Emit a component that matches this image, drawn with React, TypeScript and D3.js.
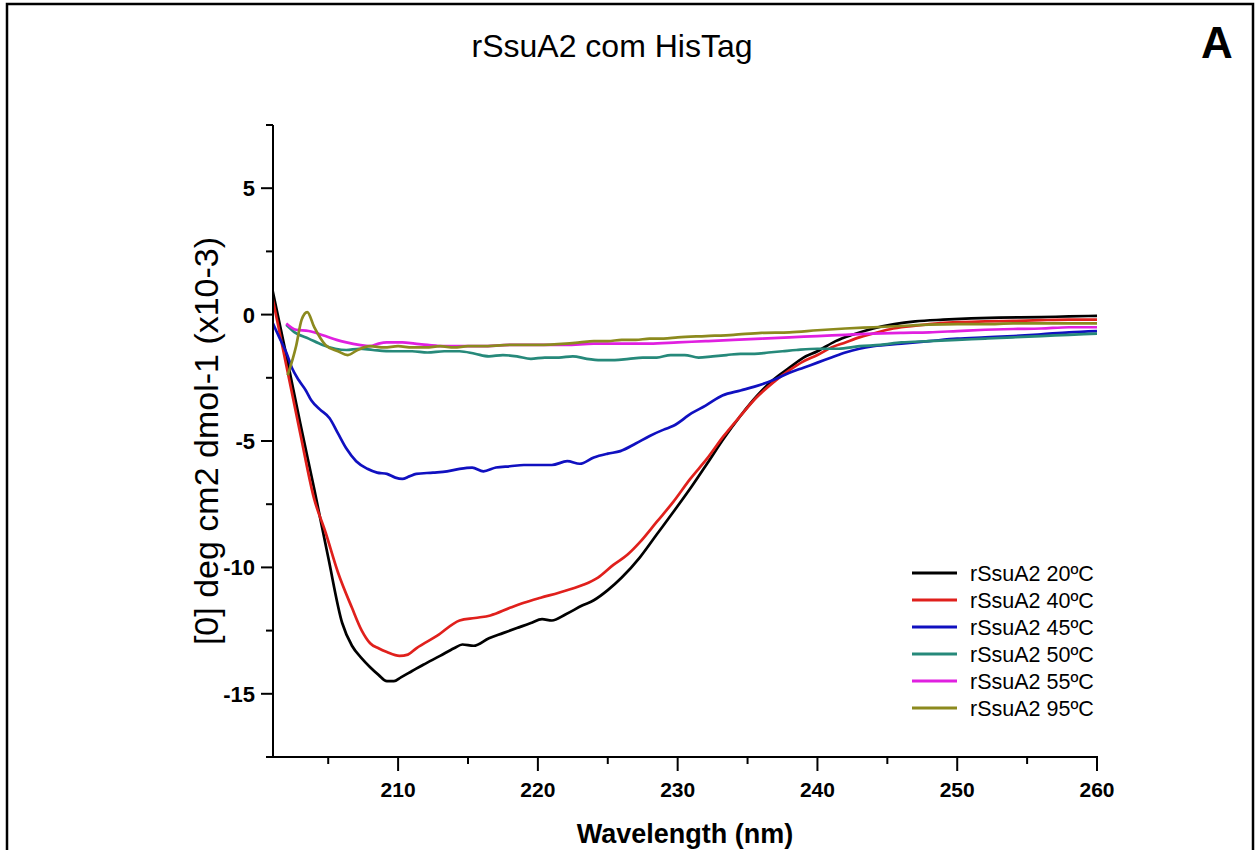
import React from "react";
import * as d3 from "d3";

// ---------- data ----------
const xTicksMajor = [210, 220, 230, 240, 250, 260];
const xTicksMinor = [205, 215, 225, 235, 245, 255];
const yTicksMajor = [5, 0, -5, -10, -15];
const yTicksMinor = [2.5, -2.5, -7.5, -12.5, -17.5, 7.5];

const seriesNames = ["rSsuA2 20ºC", "rSsuA2 40ºC", "rSsuA2 45ºC", "rSsuA2 50ºC", "rSsuA2 55ºC", "rSsuA2 95ºC"];
const seriesColors = ["#000000", "#e0201c", "#1010c0", "#26897a", "#e020e0", "#8c8a1e"];

const nm20 = [201, 202, 203, 204, 205, 206, 206.7, 207.4, 208, 208.6, 209.2, 209.7, 210.2, 211, 211.8, 213, 214, 214.6, 215.4, 216.5, 217.5, 218.5, 219.5, 220.3, 221, 222, 223.2, 224, 225, 226, 227.3, 228.5, 229.7, 231, 232.1, 233.3, 234.5, 235.7, 236.8, 238, 239, 240, 241.3, 242.5, 244, 245.5, 247, 249, 251, 253, 256, 258, 260];
const val20 = [1.0, -1.6, -4.3, -6.9, -9.6, -12.2, -13.1, -13.6, -13.95, -14.25, -14.5, -14.5, -14.35, -14.1, -13.85, -13.5, -13.2, -13.05, -13.1, -12.8, -12.6, -12.4, -12.2, -12.05, -12.1, -11.85, -11.5, -11.3, -10.9, -10.4, -9.6, -8.7, -7.8, -6.8, -5.9, -4.9, -4.0, -3.2, -2.6, -2.1, -1.7, -1.45, -1.05, -0.8, -0.55, -0.38, -0.27, -0.2, -0.15, -0.12, -0.1, -0.07, -0.05];

const nm40 = [201, 202, 203, 204, 204.8, 205.7, 206.7, 207.4, 208, 208.6, 209.2, 210.1, 210.7, 211.3, 212.8, 214.4, 215.5, 216.6, 218, 219, 220.2, 221.5, 223.2, 224.3, 225.4, 226.4, 227.3, 228.5, 229.7, 230.9, 232.1, 233.3, 234.5, 235.6, 236.8, 238, 239, 240, 241, 242, 243, 244, 245, 246, 248, 250, 252, 254, 256, 258, 260];
const val40 = [0.7, -2.0, -4.7, -7.3, -8.6, -10.2, -11.6, -12.5, -13.0, -13.2, -13.35, -13.5, -13.45, -13.2, -12.7, -12.1, -12.0, -11.9, -11.6, -11.4, -11.2, -11.0, -10.7, -10.4, -9.9, -9.5, -9.0, -8.2, -7.4, -6.5, -5.7, -4.8, -4.0, -3.3, -2.7, -2.2, -1.85, -1.6, -1.3, -1.1, -0.9, -0.75, -0.6, -0.5, -0.38, -0.3, -0.27, -0.25, -0.22, -0.2, -0.2];

const nm45 = [201, 201.5, 202, 202.4, 202.9, 203.4, 203.8, 204.4, 205.1, 205.7, 206.3, 207, 207.8, 208.5, 209.2, 209.8, 210.3, 210.8, 211.3, 212.5, 213.5, 214.4, 215.3, 216.1, 217, 218, 219, 220, 221, 222.1, 223, 224, 225, 225.9, 227, 228, 229, 229.7, 231, 232, 233.2, 234.5, 235.5, 236.8, 238, 239, 240, 241, 242, 243, 244, 246, 248, 250, 252, 254, 256, 258, 260];
const val45 = [-0.3, -0.9, -1.5, -2.1, -2.6, -3.0, -3.4, -3.75, -4.1, -4.7, -5.3, -5.8, -6.1, -6.25, -6.3, -6.45, -6.5, -6.4, -6.3, -6.25, -6.2, -6.1, -6.05, -6.2, -6.05, -6.0, -5.95, -5.95, -5.95, -5.8, -5.9, -5.65, -5.5, -5.4, -5.1, -4.8, -4.55, -4.4, -3.9, -3.6, -3.2, -3.0, -2.85, -2.6, -2.3, -2.1, -1.9, -1.7, -1.5, -1.35, -1.25, -1.15, -1.05, -0.95, -0.9, -0.85, -0.78, -0.7, -0.65];

const nm50 = [202, 202.6, 203.6, 204.6, 205.5, 206.3, 207.2, 208.2, 209.6, 211, 212.1, 213.3, 214.4, 215.5, 216.5, 217.5, 218.5, 219.5, 220.5, 221.5, 222.5, 223.5, 224.5, 225.5, 226.5, 227.5, 228.5, 229.5, 230.5, 231.5, 232.5, 233.5, 234.5, 235.5, 236.5, 237.5, 238.5, 240, 241.5, 243, 244.5, 246, 248, 250, 252, 254, 256, 258, 260];
const val50 = [-0.4, -0.7, -0.95, -1.2, -1.35, -1.4, -1.35, -1.4, -1.45, -1.45, -1.5, -1.45, -1.45, -1.55, -1.65, -1.6, -1.65, -1.75, -1.7, -1.7, -1.65, -1.75, -1.8, -1.8, -1.75, -1.7, -1.7, -1.6, -1.6, -1.7, -1.65, -1.6, -1.55, -1.55, -1.5, -1.45, -1.4, -1.35, -1.35, -1.25, -1.2, -1.1, -1.05, -1.0, -0.95, -0.9, -0.85, -0.8, -0.75];

const nm55 = [202, 202.7, 203.6, 204.8, 205.6, 206.3, 207.2, 208, 208.6, 209.2, 210.3, 211.2, 212.1, 213.3, 214.4, 216, 218, 220, 222, 224, 226, 228, 230, 232, 234, 236, 238, 240, 242, 244, 246, 248, 250, 252, 254, 256, 258, 260];
const val55 = [-0.35, -0.6, -0.65, -0.85, -1.0, -1.1, -1.2, -1.25, -1.15, -1.1, -1.1, -1.15, -1.2, -1.25, -1.25, -1.25, -1.2, -1.2, -1.2, -1.15, -1.15, -1.15, -1.1, -1.05, -1.0, -0.95, -0.9, -0.85, -0.8, -0.75, -0.72, -0.7, -0.65, -0.6, -0.57, -0.55, -0.5, -0.5];

const nm95 = [202.1, 202.7, 203.1, 203.5, 204.0, 204.8, 205.7, 206.4, 207.1, 208, 209, 210, 211, 212, 213, 214, 215, 216, 218, 220, 222, 223, 224, 225, 226, 227, 228, 229, 230, 232, 234, 236, 238, 240, 242, 244, 246, 248, 250, 252, 254, 256, 258, 260];
const val95 = [-2.4, -1.25, -0.2, 0.1, -0.5, -1.2, -1.45, -1.6, -1.4, -1.25, -1.3, -1.25, -1.3, -1.3, -1.25, -1.3, -1.25, -1.25, -1.2, -1.2, -1.15, -1.1, -1.05, -1.05, -1.0, -1.0, -0.95, -0.95, -0.9, -0.85, -0.8, -0.72, -0.7, -0.62, -0.55, -0.5, -0.45, -0.4, -0.38, -0.38, -0.35, -0.35, -0.35, -0.35];

const seriesX = [nm20, nm40, nm45, nm50, nm55, nm95];
const seriesY = [val20, val40, val45, val50, val55, val95];

// ---------- layout ----------
const W = 1257;
const H = 850;
const plot = { left: 273, right: 1097, top: 125, bottom: 757 };

export default function App() {
  const x = d3.scaleLinear().domain([201.05, 260]).range([plot.left, plot.right]);
  const y = d3.scaleLinear().domain([-17.5, 7.5]).range([plot.bottom, plot.top]);
  const line = d3
    .line<[number, number]>()
    .x((d) => x(d[0]))
    .y((d) => y(d[1]))
    .curve(d3.curveMonotoneX);

  const legendTop = 573;
  const legendStep = 27;

  return (
    <div style={{ position: "absolute", left: 0, top: 0 }}>
      <svg width={W} height={H} style={{ display: "block", background: "#fff" }} fontFamily="Liberation Sans, Arial, sans-serif">
        <rect x={0} y={0} width={W} height={H} fill="#fff" />
        <rect x={7} y={4} width={1246} height={900} fill="none" stroke="#000" strokeWidth={2.5} />

        <text x={612} y={57} textAnchor="middle" fontSize={32} fill="#000">
          rSsuA2 com HisTag
        </text>
        <text x={1217} y={58} textAnchor="middle" fontSize={44} fontWeight="bold" fill="#000">
          A
        </text>

        <defs>
          <clipPath id="clip">
            <rect x={plot.left} y={plot.top} width={plot.right - plot.left + 2} height={plot.bottom - plot.top} />
          </clipPath>
        </defs>

        {/* curves */}
        <g clipPath="url(#clip)">
          {seriesX.map((xs, i) => (
            <path
              key={i}
              d={line(xs.map((v, j) => [v, seriesY[i][j]] as [number, number])) || ""}
              fill="none"
              stroke={seriesColors[i]}
              strokeWidth={2.7}
              strokeLinejoin="round"
            />
          ))}
        </g>

        {/* axes */}
        <line x1={plot.left} x2={plot.left} y1={plot.top} y2={plot.bottom + 1} stroke="#000" strokeWidth={2} />
        <line x1={plot.left - 1} x2={plot.right + 1} y1={plot.bottom} y2={plot.bottom} stroke="#000" strokeWidth={2} />

        {xTicksMajor.map((t) => (
          <g key={"xM" + t}>
            <line x1={x(t)} x2={x(t)} y1={plot.bottom} y2={plot.bottom + 14} stroke="#000" strokeWidth={2} />
            <text x={x(t)} y={797} textAnchor="middle" fontSize={21} fontWeight="bold" fill="#000">
              {t}
            </text>
          </g>
        ))}
        {xTicksMinor.map((t) => (
          <line key={"xm" + t} x1={x(t)} x2={x(t)} y1={plot.bottom} y2={plot.bottom + 7} stroke="#000" strokeWidth={2} />
        ))}

        {yTicksMajor.map((t) => (
          <g key={"yM" + t}>
            <line x1={plot.left - 12} x2={plot.left} y1={y(t)} y2={y(t)} stroke="#000" strokeWidth={2} />
            <text x={plot.left - 18} y={y(t)} dy="0.36em" textAnchor="end" fontSize={22} fontWeight="bold" fill="#000">
              {t}
            </text>
          </g>
        ))}
        {yTicksMinor.map((t) => (
          <line key={"ym" + t} x1={plot.left - 7} x2={plot.left} y1={y(t)} y2={y(t)} stroke="#000" strokeWidth={2} />
        ))}

        <text
          transform={`translate(218, ${(plot.top + plot.bottom) / 2}) rotate(-90)`}
          textAnchor="middle"
          fontSize={34}
          fill="#000"
        >
          [0] deg cm2 dmol-1 (x10-3)
        </text>
        <text x={(plot.left + plot.right) / 2} y={843} textAnchor="middle" fontSize={27} fontWeight="bold" fill="#000">
          Wavelength (nm)
        </text>

        {/* legend */}
        {seriesNames.map((n, i) => (
          <g key={"lg" + i}>
            <line
              x1={912}
              x2={957}
              y1={legendTop + i * legendStep}
              y2={legendTop + i * legendStep}
              stroke={seriesColors[i]}
              strokeWidth={3}
            />
            <text x={970} y={legendTop + i * legendStep} dy="0.36em" fontSize={21.5} fill="#000">
              {n}
            </text>
          </g>
        ))}
      </svg>
    </div>
  );
}
